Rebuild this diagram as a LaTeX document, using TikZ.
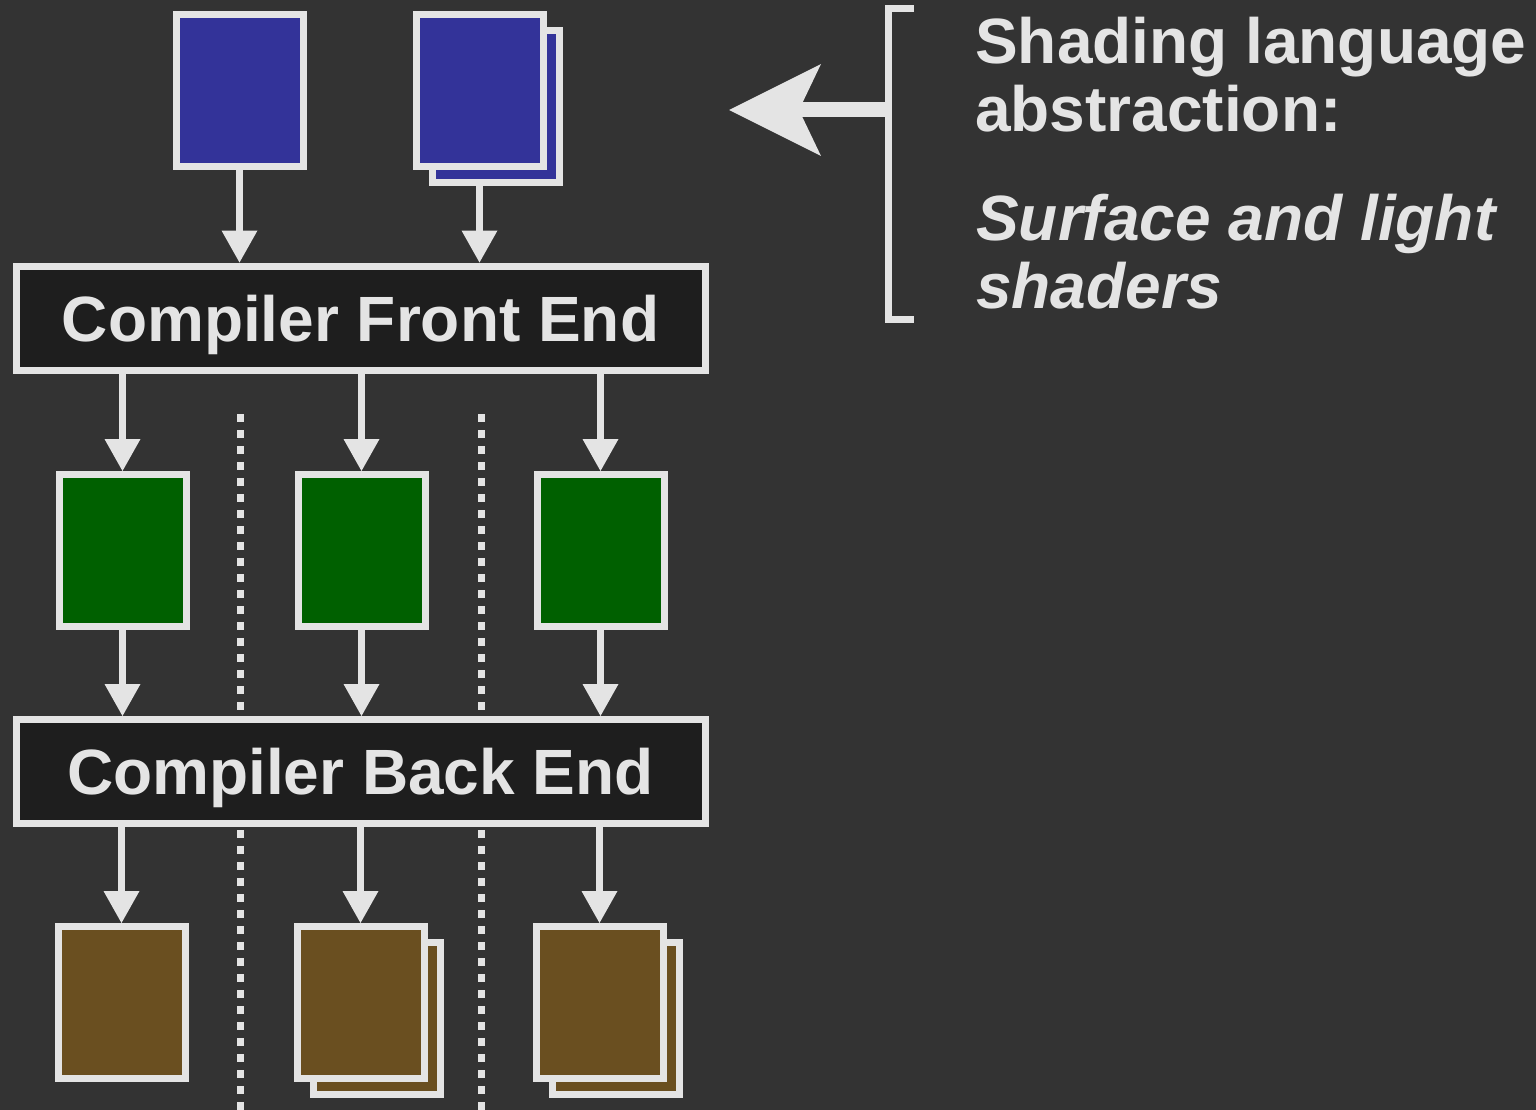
\documentclass[tikz,border=0pt]{standalone}
\usepackage{fontspec}
\setmainfont{Liberation Sans}
\usepackage{tikz}
\usetikzlibrary{arrows.meta,positioning}

\definecolor{bgdark}{HTML}{333333}
\definecolor{linegray}{HTML}{E4E4E4}
\definecolor{stagefill}{HTML}{1E1E1E}
\definecolor{srcblue}{HTML}{333399}
\definecolor{irgreen}{HTML}{006000}
\definecolor{outbrown}{HTML}{6A4F20}

\tikzset{
  page/.style={draw=linegray,line width=7pt,inner sep=0pt,minimum width=127pt,minimum height=152pt},
  stage/.style={draw=linegray,fill=stagefill,line width=7pt,inner sep=0pt,
    minimum width=689pt,minimum height=104pt,text=linegray,text depth=0pt,
    font=\fontsize{64}{68}\selectfont\bfseries},
  flow/.style={draw=linegray,line width=7pt,-{Triangle[length=32pt,width=36pt,line width=0pt]}},
  divider/.style={draw=linegray,line width=7pt,dash pattern=on 8pt off 8pt},
  note/.style={anchor=base west,align=left,inner sep=0pt,text=linegray,
    font=\fontsize{64}{68}\selectfont\bfseries}
}

\begin{document}
\begin{tikzpicture}[x=1pt,y=-1pt]
    \fill[bgdark] (0,0) rectangle (1536,1110);
    \useasboundingbox (0,0) rectangle (1536,1110);

    % shader sources
    \node[page,fill=srcblue] (srcA) at (239.5,91) {};
    \node[page,fill=srcblue] (srcBback) at (495.5,107) {};
    \node[page,fill=srcblue] (srcB) at (479.5,91) {};

    \node[stage] (front) at (360.5,318) {Compiler Front End};

    \draw[flow] (srcA) -- (srcA |- front.north);
    \draw[flow] (srcB |- srcBback.south) -- (srcB |- front.north);

    % intermediate form, one per target
    \node[page,fill=irgreen] (irA) at (122.5,550.5) {};
    \node[page,fill=irgreen] (irB) at (361.5,550.5) {};
    \node[page,fill=irgreen] (irC) at (600.5,550.5) {};

    \node[stage] (back) at (360.5,771.5) {Compiler Back End};

    \foreach \n in {irA,irB,irC} {
      \draw[flow] (front.south -| \n) -- (\n.north);
      \draw[flow] (\n.south) -- (\n |- back.north);
    }

    % generated code
    \node[page,fill=outbrown] (outA) at (121.5,1002.5) {};
    \node[page,fill=outbrown] (outBback) at (377,1018.5) {};
    \node[page,fill=outbrown] (outB) at (360.5,1002.5) {};
    \node[page,fill=outbrown] (outCback) at (616,1018.5) {};
    \node[page,fill=outbrown] (outC) at (599.5,1002.5) {};

    \foreach \n in {outA,outB,outC}
      \draw[flow] (back.south -| \n) -- (\n.north);

    % target separators
    \foreach \x in {240,481} {
      \draw[divider] (\x,414) -- (\x,711);
      \draw[divider] (\x,830) -- (\x,1110);
    }

    % bracket and pointer
    \draw[linegray,line width=7pt,line join=miter] (914,9) -| (888,319) -- (914,319);
    \coordinate (brk) at (888,110);
    \coordinate (abstip) at (729,110);
    \draw[linegray,line width=15pt,-{Stealth[length=92pt,width=92pt,inset=22pt,line width=0pt]}] (brk) -- (abstip);

    % base anchor sits on the last line
    \node[note] (abstr) at (975,132) {Shading language\\abstraction:};
    \node[note,font=\fontsize{64}{68}\selectfont\bfseries\itshape] (shdr) at (976,308) {Surface and light\\shaders};
\end{tikzpicture}
\end{document}
